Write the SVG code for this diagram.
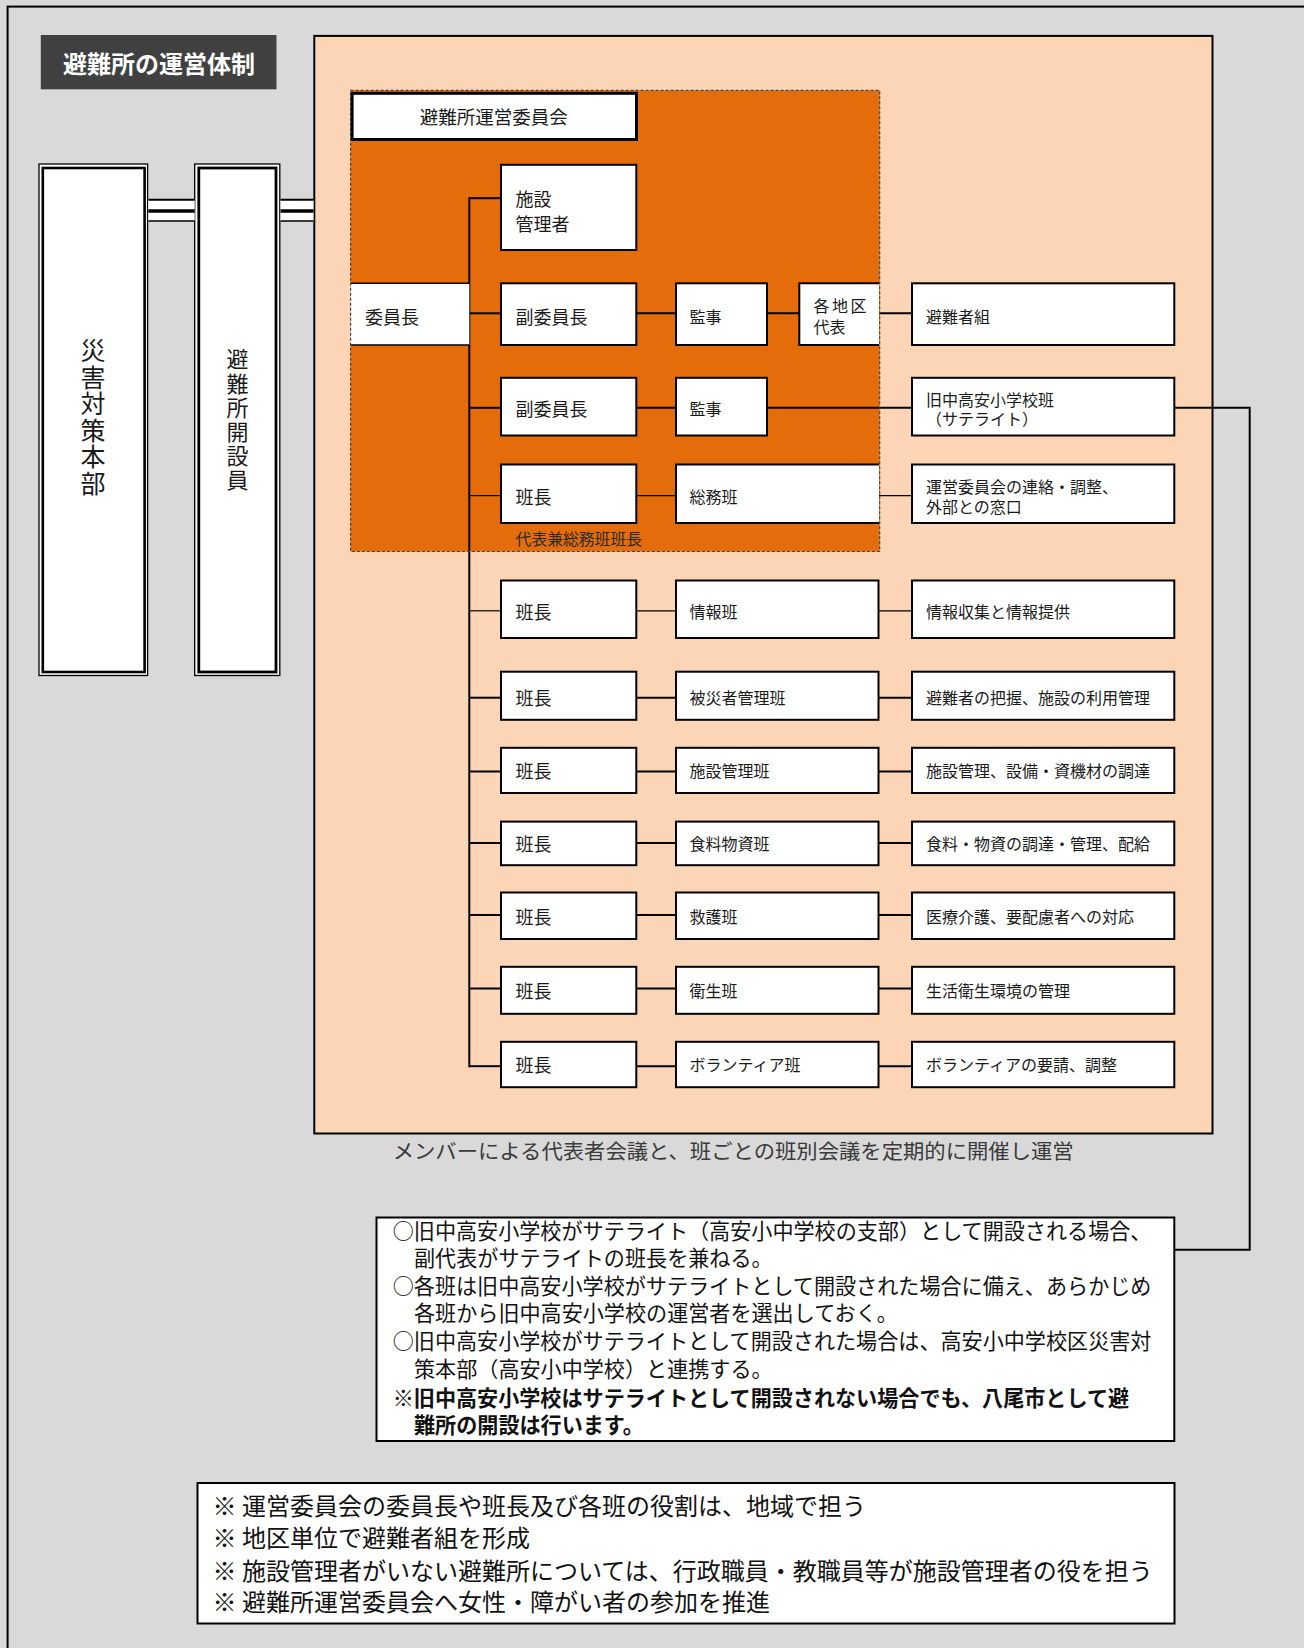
<svg xmlns="http://www.w3.org/2000/svg" width="1304" height="1648" viewBox="0 0 1304 1648">
<style>
text { font-family: "Noto Sans CJK JP", "Noto Sans", sans-serif; fill: #1a1a1a; }
.box { fill: #fff; stroke: #000; stroke-width: 2; }
.t18 { font-size: 18px; dominant-baseline: central; }
.t16 { font-size: 16px; dominant-baseline: central; }
.ln { stroke: #000; stroke-width: 2; fill: none; }
.lt { stroke: #000; stroke-width: 1.2; fill: none; }
.note1 { font-size: 21.1px; dominant-baseline: central; fill: #111; }
.note2 { font-size: 24px; dominant-baseline: central; fill: #111; }
.vt { writing-mode: vertical-rl; }
</style>

<!-- background -->
<rect x="0" y="0" width="1304" height="1648" fill="#d9d9d9"/>
<rect x="7.6" y="6.6" width="1400" height="1700" fill="none" stroke="#000" stroke-width="2"/>

<!-- title -->
<g id="title">
  <rect x="40.8" y="35" width="235.7" height="54.3" fill="#404040"/>
  <text x="63" y="62" style="font-size:24px;font-weight:bold;fill:#fff;dominant-baseline:central">避難所の運営体制</text>
</g>

<!-- left tall boxes -->
<g id="hq">
  <rect x="39" y="164" width="108.6" height="511.5" fill="#fff" stroke="#000" stroke-width="1.3"/>
  <rect x="42.8" y="168" width="101.8" height="504" fill="none" stroke="#000" stroke-width="2.6"/>
  <text class="vt" x="93" y="338" style="font-size:25px;letter-spacing:1.6px">災害対策本部</text>
</g>
<g id="opener">
  <rect x="194.7" y="164" width="85.1" height="511.5" fill="#fff" stroke="#000" stroke-width="1.3"/>
  <rect x="198.8" y="168" width="77.2" height="504" fill="none" stroke="#000" stroke-width="2.8"/>
  <text class="vt" x="237.5" y="348" style="font-size:22px;letter-spacing:2.2px">避難所開設員</text>
</g>

<!-- peach container -->
<g id="container">
  <rect x="314.3" y="35.9" width="898.2" height="1097.6" fill="#fbd5b5" stroke="#000" stroke-width="2"/>
</g>

<!-- orange committee area -->
<g id="committee-area">
  <rect x="350.6" y="90.4" width="529.1" height="461.1" fill="#e46c0a"/>
</g>

<!-- connectors -->
<g id="connectors">
  <rect x="148.3" y="199.7" width="46.4" height="21.3" fill="#fff"/>
  <line x1="148.3" y1="199.7" x2="194.7" y2="199.7" stroke="#000" stroke-width="2"/>
  <line x1="148.3" y1="211" x2="194.7" y2="211" stroke="#000" stroke-width="3.4"/>
  <line x1="148.3" y1="221" x2="194.7" y2="221" stroke="#000" stroke-width="1.4"/>
  <rect x="280.5" y="199.7" width="33" height="21.3" fill="#fff"/>
  <line x1="280.5" y1="199.7" x2="313.5" y2="199.7" stroke="#000" stroke-width="2"/>
  <line x1="280.5" y1="211" x2="313.5" y2="211" stroke="#000" stroke-width="3.4"/>
  <line x1="280.5" y1="221" x2="313.5" y2="221" stroke="#000" stroke-width="1.4"/>
  <line class="ln" x1="469.3" y1="197.2" x2="469.3" y2="1067.2"/>
  <line class="ln" x1="469.3" y1="198.2" x2="501" y2="198.2"/>
  <line class="ln" x1="469.3" y1="313.3" x2="501" y2="313.3"/>
  <line class="ln" x1="636.3" y1="313.3" x2="676" y2="313.3"/>
  <line class="ln" x1="767" y1="313.3" x2="799.3" y2="313.3"/>
  <line class="ln" x1="879" y1="313.3" x2="912" y2="313.3"/>
  <line class="ln" x1="469.3" y1="407.8" x2="501" y2="407.8"/>
  <line class="ln" x1="636.3" y1="407.8" x2="676" y2="407.8"/>
  <line class="ln" x1="767" y1="407.8" x2="912" y2="407.8"/>
  <path class="ln" d="M1174.3 407.8 H1249.7 V1249.7 H1175"/>
  <line class="lt" x1="469.3" y1="495.6" x2="501" y2="495.6"/>
  <line class="lt" x1="636.3" y1="495.6" x2="676" y2="495.6"/>
  <line class="lt" x1="879" y1="495.6" x2="912" y2="495.6"/>
  <line class="lt" x1="469.3" y1="610.8" x2="501" y2="610.8"/>
  <line class="lt" x1="636.3" y1="610.8" x2="676" y2="610.8"/>
  <line class="lt" x1="879" y1="610.8" x2="912" y2="610.8"/>
  <line class="ln" x1="469.3" y1="697.7" x2="501" y2="697.7"/>
  <line class="ln" x1="636.3" y1="697.7" x2="676" y2="697.7"/>
  <line class="ln" x1="879" y1="697.7" x2="912" y2="697.7"/>
  <line class="ln" x1="469.3" y1="771.5" x2="501" y2="771.5"/>
  <line class="ln" x1="636.3" y1="771.5" x2="676" y2="771.5"/>
  <line class="ln" x1="879" y1="771.5" x2="912" y2="771.5"/>
  <line class="ln" x1="469.3" y1="843" x2="501" y2="843"/>
  <line class="ln" x1="636.3" y1="843" x2="676" y2="843"/>
  <line class="ln" x1="879" y1="843" x2="912" y2="843"/>
  <line class="ln" x1="469.3" y1="915" x2="501" y2="915"/>
  <line class="ln" x1="636.3" y1="915" x2="676" y2="915"/>
  <line class="ln" x1="879" y1="915" x2="912" y2="915"/>
  <line class="ln" x1="469.3" y1="988.5" x2="501" y2="988.5"/>
  <line class="ln" x1="636.3" y1="988.5" x2="676" y2="988.5"/>
  <line class="ln" x1="879" y1="988.5" x2="912" y2="988.5"/>
  <line class="ln" x1="469.3" y1="1066.2" x2="501" y2="1066.2"/>
  <line class="ln" x1="636.3" y1="1066.2" x2="676" y2="1066.2"/>
  <line class="ln" x1="879" y1="1066.2" x2="912" y2="1066.2"/>
</g>

<!-- row A -->
<g id="n-shisetsu-kanrisha">
  <rect class="box" x="501" y="164.8" width="135.3" height="85.2"/>
  <text class="t18" x="515.6" y="197.5">施設</text>
  <text class="t18" x="515.6" y="222.5">管理者</text>
</g>

<!-- row B -->
<g id="n-iincho">
  <rect x="350.6" y="283.3" width="118.7" height="61.7" fill="#fff"/>
  <line class="lt" x1="350.6" y1="283.3" x2="469.3" y2="283.3" style="stroke-width:1.6"/>
  <line class="lt" x1="350.6" y1="345" x2="469.3" y2="345" style="stroke-width:1.6"/>
  <text class="t18" x="365" y="315.8">委員長</text>
</g>
<g id="n-fuku1">
  <rect class="box" x="501" y="283.3" width="135.3" height="61.7"/>
  <text class="t18" x="515.6" y="315.8">副委員長</text>
</g>
<g id="n-kanji1">
  <rect class="box" x="676" y="283.3" width="91" height="61.7"/>
  <text class="t16" x="689.5" y="315.8">監事</text>
</g>
<g id="n-chiku">
  <rect x="799.3" y="283.3" width="79.7" height="61.7" fill="#fff"/>
  <path class="ln" d="M879 283.3 H799.3 V345 H879"/>
  <text class="t16" x="813.6" y="304.5" style="letter-spacing:2.5px">各地区</text>
  <text class="t16" x="813.6" y="325.8">代表</text>
</g>
<g id="n-hinanshagumi">
  <rect class="box" x="912" y="283.3" width="262.3" height="61.7"/>
  <text class="t16" x="926" y="315.8">避難者組</text>
</g>

<!-- row C -->
<g id="n-fuku2">
  <rect class="box" x="501" y="377.8" width="135.3" height="57.7"/>
  <text class="t18" x="515.6" y="408">副委員長</text>
</g>
<g id="n-kanji2">
  <rect class="box" x="676" y="377.8" width="91" height="57.7"/>
  <text class="t16" x="689.5" y="408">監事</text>
</g>
<g id="n-satellite">
  <rect class="box" x="912" y="377.8" width="262.3" height="57.7"/>
  <text class="t16" x="926" y="398.5">旧中高安小学校班</text>
  <text class="t16" x="926" y="418">（サテライト）</text>
</g>

<!-- row D -->
<g id="n-hancho-somu">
  <rect class="box" x="501" y="464.5" width="135.3" height="58.5"/>
  <text class="t18" x="515.6" y="496.3">班長</text>
</g>
<g id="n-somu">
  <rect x="676" y="464.5" width="203" height="58.5" fill="#fff"/>
  <path class="ln" d="M879 464.5 H676 V523 H879"/>
  <text class="t16" x="689.5" y="496.3">総務班</text>
</g>
<g id="n-somu-role">
  <rect class="box" x="912" y="464.5" width="262.3" height="58.5"/>
  <text class="t16" x="926" y="486">運営委員会の連絡・調整、</text>
  <text class="t16" x="926" y="506">外部との窓口</text>
</g>
<text x="515.6" y="538.5" style="font-size:15.8px;dominant-baseline:central;fill:#2a2a2a">代表兼総務班班長</text>

<!-- dashed outline of committee area -->
<rect x="350.6" y="90.4" width="529.1" height="461.1" fill="none" stroke="#444" stroke-width="1.2" stroke-dasharray="3 2"/>

<!-- committee title box -->
<g id="n-committee">
  <rect x="352.1" y="93.3" width="284.4" height="46.2" fill="#fff" stroke="#000" stroke-width="3"/>
  <text x="493.8" y="115.5" style="font-size:18.5px;text-anchor:middle;dominant-baseline:central">避難所運営委員会</text>
</g>

<!-- rows E-K -->
<g id="n-row-joho">
  <rect class="box" x="501" y="580.5" width="135.3" height="57.5"/>
  <text class="t18" x="515.6" y="610.8">班長</text>
  <rect class="box" x="676" y="580.5" width="202.5" height="57.5"/>
  <text class="t16" x="689.5" y="610.8">情報班</text>
  <rect class="box" x="912" y="580.5" width="262.3" height="57.5"/>
  <text class="t16" x="926" y="610.8">情報収集と情報提供</text>
</g>
<g id="n-row-hisaisha">
  <rect class="box" x="501" y="671.7" width="135.3" height="48.1"/>
  <text class="t18" x="515.6" y="697.3">班長</text>
  <rect class="box" x="676" y="671.7" width="202.5" height="48.1"/>
  <text class="t16" x="689.5" y="697.3">被災者管理班</text>
  <rect class="box" x="912" y="671.7" width="262.3" height="48.1"/>
  <text class="t16" x="926" y="697.3">避難者の把握、施設の利用管理</text>
</g>
<g id="n-row-shisetsu">
  <rect class="box" x="501" y="747.8" width="135.3" height="45.2"/>
  <text class="t18" x="515.6" y="770.4">班長</text>
  <rect class="box" x="676" y="747.8" width="202.5" height="45.2"/>
  <text class="t16" x="689.5" y="770.4">施設管理班</text>
  <rect class="box" x="912" y="747.8" width="262.3" height="45.2"/>
  <text class="t16" x="926" y="770.4">施設管理、設備・資機材の調達</text>
</g>
<g id="n-row-shokuryo">
  <rect class="box" x="501" y="821.6" width="135.3" height="43.6"/>
  <text class="t18" x="515.6" y="843.2">班長</text>
  <rect class="box" x="676" y="821.6" width="202.5" height="43.6"/>
  <text class="t16" x="689.5" y="843.2">食料物資班</text>
  <rect class="box" x="912" y="821.6" width="262.3" height="43.6"/>
  <text class="t16" x="926" y="843.2">食料・物資の調達・管理、配給</text>
</g>
<g id="n-row-kyugo">
  <rect class="box" x="501" y="892.5" width="135.3" height="46.5"/>
  <text class="t18" x="515.6" y="915.6">班長</text>
  <rect class="box" x="676" y="892.5" width="202.5" height="46.5"/>
  <text class="t16" x="689.5" y="915.6">救護班</text>
  <rect class="box" x="912" y="892.5" width="262.3" height="46.5"/>
  <text class="t16" x="926" y="915.6">医療介護、要配慮者への対応</text>
</g>
<g id="n-row-eisei">
  <rect class="box" x="501" y="966.8" width="135.3" height="47"/>
  <text class="t18" x="515.6" y="990">班長</text>
  <rect class="box" x="676" y="966.8" width="202.5" height="47"/>
  <text class="t16" x="689.5" y="990">衛生班</text>
  <rect class="box" x="912" y="966.8" width="262.3" height="47"/>
  <text class="t16" x="926" y="990">生活衛生環境の管理</text>
</g>
<g id="n-row-volunteer">
  <rect class="box" x="501" y="1041.8" width="135.3" height="45.4"/>
  <text class="t18" x="515.6" y="1064.3">班長</text>
  <rect class="box" x="676" y="1041.8" width="202.5" height="45.4"/>
  <text class="t16" x="689.5" y="1064.3">ボランティア班</text>
  <rect class="box" x="912" y="1041.8" width="262.3" height="45.4"/>
  <text class="t16" x="926" y="1064.3">ボランティアの要請、調整</text>
</g>

<!-- caption -->
<text x="392.7" y="1149.5" textLength="681" lengthAdjust="spacingAndGlyphs" style="font-size:20.6px;dominant-baseline:central;fill:#3a3a3a">メンバーによる代表者会議と、班ごとの班別会議を定期的に開催し運営</text>

<!-- note 1 -->
<g id="note-satellite">
  <rect x="376.5" y="1217.5" width="797.8" height="223.5" fill="#fff" stroke="#000" stroke-width="2"/>
  <text class="note1" x="392.7" y="1230">○旧中高安小学校がサテライト（高安小中学校の支部）として開設される場合、</text>
  <text class="note1" x="414" y="1257.3">副代表がサテライトの班長を兼ねる。</text>
  <text class="note1" x="392.7" y="1284.6">○各班は旧中高安小学校がサテライトとして開設された場合に備え、あらかじめ</text>
  <text class="note1" x="414" y="1312">各班から旧中高安小学校の運営者を選出しておく。</text>
  <text class="note1" x="392.7" y="1340">○旧中高安小学校がサテライトとして開設された場合は、高安小中学校区災害対</text>
  <text class="note1" x="414" y="1367.5">策本部（高安小中学校）と連携する。</text>
  <text class="note1" x="392.7" y="1397" style="font-weight:bold">※旧中高安小学校はサテライトとして開設されない場合でも、八尾市として避</text>
  <text class="note1" x="414" y="1424" style="font-weight:bold">難所の開設は行います。</text>
</g>

<!-- note 2 -->
<g id="note-general">
  <rect x="197.5" y="1483" width="977" height="140.5" fill="#fff" stroke="#000" stroke-width="2"/>
  <text class="note2" x="212.6" y="1504">※ 運営委員会の委員長や班長及び各班の役割は、地域で担う</text>
  <text class="note2" x="212.6" y="1536.5">※ 地区単位で避難者組を形成</text>
  <text class="note2" x="212.6" y="1569">※ 施設管理者がいない避難所については、行政職員・教職員等が施設管理者の役を担う</text>
  <text class="note2" x="212.6" y="1600.5">※ 避難所運営委員会へ女性・障がい者の参加を推進</text>
</g>
</svg>
